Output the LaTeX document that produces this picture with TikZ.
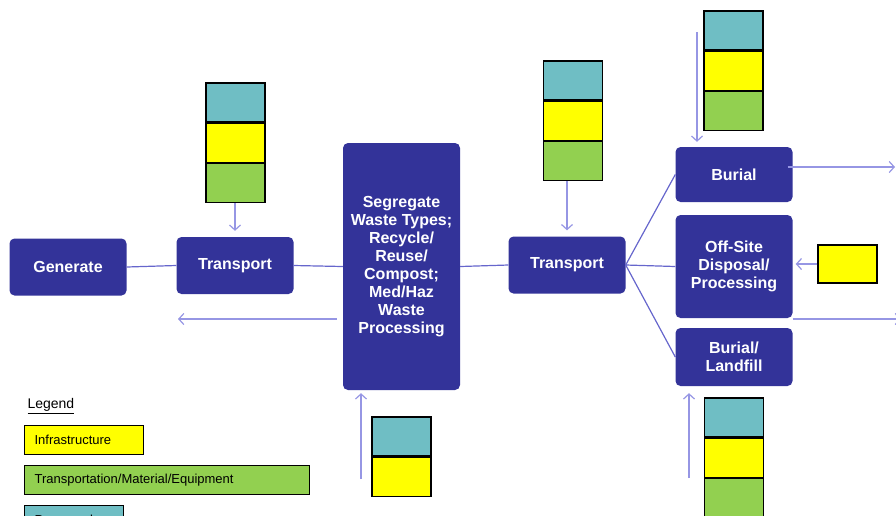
\documentclass[tikz,border=0pt]{standalone}
\usepackage{fontspec}
\setmainfont{Liberation Sans}
\usetikzlibrary{positioning,arrows.meta}
\definecolor{mynavy}{RGB}{51,51,153}
\definecolor{myteal}{RGB}{111,190,196}
\definecolor{myyellow}{RGB}{255,255,0}
\definecolor{mygreen}{RGB}{146,208,80}
\definecolor{mylink}{RGB}{102,102,204}
\definecolor{myarrow}{RGB}{150,150,228}
\newcommand{\widthcell}{59pt}
\newcommand{\heightcell}{39pt}
\newcommand{\widthstage}{117pt}
\tikzset{
    stage/.style={fill=mynavy, rounded corners=5pt, text=white, align=center, inner sep=2pt,
        font=\bfseries\fontsize{16}{18}\selectfont, minimum width=\widthstage, minimum height=57pt},
    cell/.style={draw, line width=1.2pt, minimum width=\widthcell, minimum height=\heightcell, inner sep=0pt},
    personnel/.style={cell, fill=myteal},
    infra/.style={cell, fill=myyellow},
    transp/.style={cell, fill=mygreen},
    link/.style={draw=mylink, line width=1.2pt},
    flow/.style={draw=myarrow, line width=1.2pt, -{Straight Barb[length=5pt,width=11pt]}},
    key/.style={draw, line width=1.2pt, anchor=north west, minimum height=29pt, inner xsep=10pt,
        align=left, font=\fontsize{13}{15}\selectfont}
}

\begin{document}
\begin{tikzpicture}[x=1pt, y=-1pt]
    \useasboundingbox (0,0) rectangle (896,515);

    % stages
    \node[stage] (generate) at (68,267) {Generate};
    \node[stage] (transportA) at (235,265.5) {Transport};
    \node[stage, minimum height=247pt] (segregate) at (401.5,266.5)
        {Segregate\\Waste Types;\\Recycle/\\Reuse/\\Compost;\\Med/Haz\\Waste\\Processing};
    \node[stage] (transportB) at (567,265) {Transport};
    \node[stage, minimum height=55pt] (burial) at (734,174.5) {Burial};
    \node[stage, minimum height=103pt] (offsite) at (734,266.5) {Off-Site\\Disposal/\\Processing};
    \node[stage, minimum height=58pt] (landfill) at (734,357) {Burial/\\Landfill};

    % resource stacks
    \node[personnel] (aTop) at (235.5,102.5) {};
    \node[infra, below=0pt of aTop] (aMid) {};
    \node[transp, below=0pt of aMid] (aBot) {};

    \node[personnel] (bTop) at (573,80.5) {};
    \node[infra, below=0pt of bTop] (bMid) {};
    \node[transp, below=0pt of bMid] (bBot) {};

    \node[personnel] (cTop) at (733.5,30.5) {};
    \node[infra, below=0pt of cTop] (cMid) {};
    \node[transp, below=0pt of cMid] (cBot) {};

    \node[personnel] (dTop) at (734,417.5) {};
    \node[infra, below=0pt of dTop] (dMid) {};
    \node[transp, below=0pt of dMid] (dBot) {};

    \node[personnel] (eTop) at (401.5,436.5) {};
    \node[infra, below=0pt of eTop] (eBot) {};

    \node[infra, minimum height=38pt] (fOnly) at (847.5,264) {};

    % free ends
    \coordinate (cIn) at (697,32);
    \coordinate (dIn) at (689,478);
    \coordinate (eIn) at (361,479);
    \coordinate (back) at (178,319);
    \coordinate (burialOut) at (895,167);
    \coordinate (offsiteOut) at (901,319);

    % links
    \draw[link] (generate.east) -- (transportA.west);
    \draw[link] (transportA.east) -- (segregate.west);
    \draw[link] (segregate.east) -- (transportB.west);
    \draw[link] (transportB.east) -- (burial.west);
    \draw[link] (transportB.east) -- (offsite.west);
    \draw[link] (transportB.east) -- (landfill.west);

    % flows
    \draw[flow, shorten >=6pt] (aBot.south -| transportA.north) -- (transportA.north);
    \draw[flow, shorten >=6pt] (bBot.south -| transportB.north) -- (transportB.north);
    \draw[flow, shorten >=5pt] (cIn) -- (cIn |- burial.north);
    \draw[flow, shorten >=7pt] (dIn) -- (dIn |- landfill.south);
    \draw[flow, shorten >=3pt] (eIn) -- (eIn |- segregate.south);
    \draw[flow, shorten >=3pt] (fOnly.west) -- (offsite.east |- fOnly.west);
    \draw[flow, shorten <=6pt] (segregate.west |- back) -- (back);
    \draw[flow, shorten <=-5pt] (burial.east |- burialOut) -- (burialOut);
    \draw[flow] (offsite.east |- offsiteOut) -- (offsiteOut);

    % legend
    \node[anchor=west, font=\fontsize{14}{16}\selectfont] (legend) at (24,406) {\underline{Legend}};
    \node[key, fill=myyellow, text width=99pt] (keyInfra) at (24,425) {Infrastructure};
    \node[key, fill=mygreen, text width=265pt] (keyTransp) at (24,465) {Transportation/Material/Equipment};
    \node[key, fill=myteal, text width=79pt] (keyPers) at (24,505) {Personnel};
\end{tikzpicture}
\end{document}
